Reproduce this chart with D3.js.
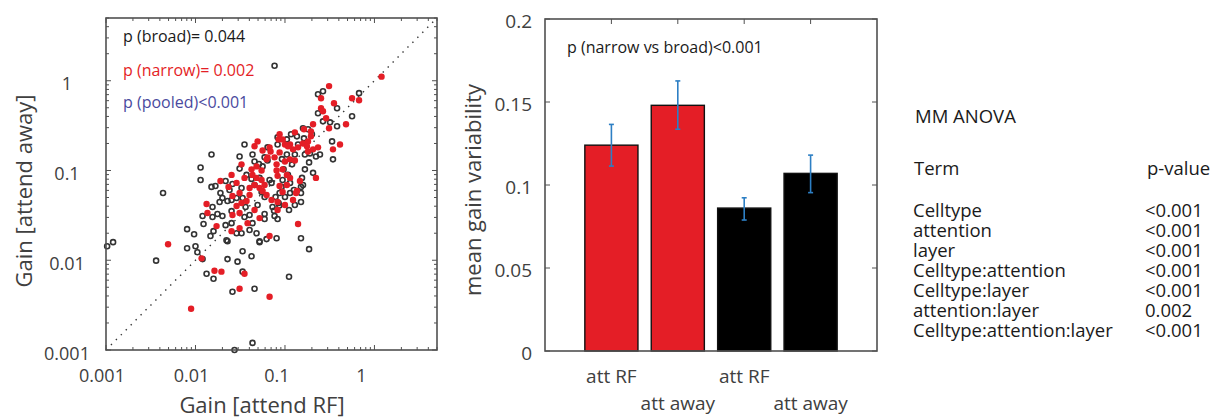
<!DOCTYPE html>
<html>
<head>
<meta charset="utf-8">
<script src="https://cdn.jsdelivr.net/npm/d3@7"></script>
<style>
  html, body { margin: 0; padding: 0; background: #fff; }
  svg { display: block; font-family: "Open Sans", "Noto Sans", sans-serif; }
</style>
</head>
<body>
<div id="chart"></div>
<script>
// ---- data ----
// broad cells (open black circles): [gain attend RF, gain attend away]
const broadPoints = [
  [0.0765,1.47],[0.266,0.765],[0.234,0.708],[0.673,0.727],[0.382,0.494],[0.234,0.434],
  [0.562,0.402],[0.266,0.353],[0.319,0.344],[0.382,0.311],[0.159,0.295],[0.181,0.288],
  [0.117,0.253],[0.200,0.253],[0.163,0.228],[0.0827,0.234],[0.105,0.222],[0.136,0.240],
  [0.336,0.211],[0.0353,0.195],[0.0827,0.195],[0.140,0.195],[0.190,0.155],[0.0639,0.181],
  [0.0434,0.151],[0.0151,0.151],[0.0311,0.143],[0.105,0.151],[0.129,0.151],[0.167,0.151],
  [0.246,0.151],[0.344,0.133],[0.222,0.143],[0.0592,0.140],[0.0639,0.129],[0.0562,0.111],
  [0.0311,0.105],[0.0114,0.108],[0.167,0.103],[0.206,0.0941],[0.0965,0.103],[0.108,0.0893],
  [0.052,0.0827],[0.0423,0.0806],[0.0114,0.0785],[0.0217,0.0765],[0.0941,0.0785],[0.155,0.0827],
  [0.0673,0.0785],[0.0708,0.0727],[0.0259,0.0708],[0.0457,0.069],[0.114,0.0727],[0.159,0.069],
  [0.151,0.0656],[0.0151,0.0656],[0.0167,0.0673],[0.0917,0.0656],[0.0327,0.0639],[0.019,0.0562],
  [0.126,0.0607],[0.0871,0.0562],[0.114,0.0562],[0.151,0.0562],[0.0548,0.0576],[0.0592,0.0507],
  [0.00434,0.0562],[0.02,0.0494],[0.0288,0.0494],[0.0336,0.0494],[0.0253,0.0469],[0.0785,0.0507],
  [0.151,0.0446],[0.0849,0.0434],[0.0727,0.0392],[0.129,0.0412],[0.0186,0.0446],[0.0228,0.0457],
  [0.0155,0.0392],[0.111,0.0363],[0.0353,0.0303],[0.0402,0.0319],[0.0155,0.0303],[0.0176,0.0327],
  [0.02,0.0311],[0.0253,0.0353],[0.0765,0.0311],[0.0592,0.0327],[0.0592,0.0288],[0.0827,0.0288],
  [0.0434,0.0259],[0.0253,0.0259],[0.012,0.0311],[0.0123,0.0253],[0.00806,0.0222],[0.00965,0.0195],
  [0.0147,0.0186],[0.0159,0.0211],[0.0288,0.02],[0.0327,0.02],[0.0481,0.02],[0.151,0.0176],
  [0.0806,0.0176],[0.0228,0.0163],[0.052,0.0163],[0.0623,0.0172],[0.186,0.0133],[0.00806,0.0136],
  [0.01,0.0143],[0.0105,0.0123],[0.00103,0.0143],[0.0012,0.0159],[0.00363,0.0099],[0.012,0.0103],
  [0.0228,0.0103],[0.0295,0.00965],[0.0336,0.0126],[0.0423,0.0111],[0.0133,0.00708],[0.0159,0.00623],
  [0.0336,0.00746],[0.0259,0.00446],[0.0457,0.00481],[0.111,0.00656],[0.0434,0.0012],[0.0273,0.001],
  [0.0222,0.0167],[0.052,0.0159],[0.0457,0.126],[0.0372,0.0893],[0.024,0.0607],[0.12,0.117],
  [0.186,0.123],[0.0363,0.0392],[0.0494,0.0412],[0.1,0.0507],[0.0217,0.0246],[0.0402,0.0217],
  [0.0755,0.0355],[0.0865,0.0408],[0.0512,0.118],[0.0925,0.134]
];

// narrow cells (filled red dots)
const narrowPoints = [
  [1.20,1.11],[0.311,0.871],[0.253,0.639],[0.562,0.639],[0.673,0.607],[0.353,0.562],
  [0.253,0.494],[0.266,0.457],[0.288,0.382],[0.481,0.327],[0.311,0.295],[0.206,0.327],
  [0.163,0.288],[0.195,0.273],[0.129,0.266],[0.0871,0.253],[0.195,0.240],[0.181,0.211],
  [0.412,0.195],[0.0849,0.222],[0.1,0.195],[0.114,0.195],[0.159,0.2],[0.176,0.186],
  [0.206,0.172],[0.344,0.172],[0.234,0.181],[0.0494,0.211],[0.0457,0.186],[0.0562,0.167],
  [0.0673,0.181],[0.069,0.163],[0.0765,0.140],[0.0871,0.159],[0.108,0.186],[0.123,0.172],
  [0.14,0.181],[0.114,0.133],[0.1,0.126],[0.129,0.129],[0.0327,0.117],[0.0253,0.0893],
  [0.019,0.0765],[0.0288,0.0727],[0.0434,0.0893],[0.0481,0.111],[0.0423,0.103],[0.0548,0.1],
  [0.0639,0.14],[0.0806,0.117],[0.0806,0.1],[0.0827,0.0871],[0.0941,0.103],[0.105,0.0893],
  [0.114,0.0827],[0.0871,0.0673],[0.105,0.069],[0.136,0.0592],[0.147,0.0765],[0.222,0.0827],
  [0.133,0.0562],[0.0402,0.0639],[0.0457,0.069],[0.052,0.0639],[0.0562,0.0592],[0.0481,0.0827],
  [0.0548,0.0785],[0.0311,0.0562],[0.0259,0.052],[0.0623,0.0534],[0.0708,0.0469],[0.0827,0.0446],
  [0.0133,0.0423],[0.0136,0.0336],[0.0259,0.0319],[0.0311,0.0336],[0.0288,0.0402],[0.0327,0.0434],
  [0.0372,0.0457],[0.0457,0.0363],[0.052,0.0295],[0.0382,0.0259],[0.0311,0.0228],[0.0253,0.0211],
  [0.0172,0.024],[0.0673,0.0186],[0.0827,0.0363],[0.14,0.0253],[0.00494,0.0151],[0.0117,0.0105],
  [0.0163,0.00765],[0.0195,0.00746],[0.0353,0.00708],[0.0311,0.00481],[0.0673,0.00392],[0.00893,0.00288],
  [0.181,0.163],[0.0941,0.222],[0.0623,0.133],[0.0353,0.0827],[0.0941,0.0576],[0.123,0.0469],
  [0.0592,0.069],[0.0402,0.0534],[0.1,0.0412],[0.0234,0.0656]
];

const logTicks = [0.001, 0.01, 0.1, 1];
const logTickLabels = ["0.001", "0.01", "0.1", "1"];
const statLines = ["p (broad)= 0.044", "p (narrow)= 0.002", "p (pooled)<0.001"];

const barLabels = ["att RF", "att away", "att RF", "att away"];
const barValues = [0.124, 0.148, 0.0861, 0.107];
const barErrLow = [0.1114, 0.1336, 0.0789, 0.0954];
const barErrHigh = [0.1365, 0.1627, 0.0923, 0.118];
const barTicks = [0, 0.05, 0.1, 0.15, 0.2];
const barTickLabels = ["0", "0.05", "0.1", "0.15", "0.2"];

const anovaTerms = ["Celltype", "attention", "layer", "Celltype:attention",
  "Celltype:layer", "attention:layer", "Celltype:attention:layer"];
const anovaP = ["<0.001", "<0.001", "<0.001", "<0.001", "<0.001", "0.002", "<0.001"];

// ---- styles ----
const red = "#e41e26";
const black = "#333";
const axisCol = "#505050";
const labelCol = "#404040";
const statColors = ["#1a1a1a", red, "#4a4a9e"];
const barFills = [red, red, "#000", "#000"];
const errCol = "#2d7fc4";

const svg = d3.select("#chart").append("svg")
  .attr("width", 1218).attr("height", 419)
  .attr("viewBox", [0, 0, 1218, 419]);

// ================= scatter =================
const x = d3.scaleLog().domain([0.001, 5]).range([106, 437]);
const y = d3.scaleLog().domain([0.001, 5]).range([350, 18]);
const sc = svg.append("g");

// minor + major ticks on all four sides
const minor = x.ticks().filter(v => !logTicks.includes(v));
const tickG = sc.append("g").attr("stroke", axisCol).attr("stroke-width", 1);
function sideTicks(vals, len) {
  vals.forEach(v => {
    tickG.append("line").attr("x1", x(v)).attr("x2", x(v)).attr("y1", 350).attr("y2", 350 - len);
    tickG.append("line").attr("x1", x(v)).attr("x2", x(v)).attr("y1", 18).attr("y2", 18 + len);
    tickG.append("line").attr("y1", y(v)).attr("y2", y(v)).attr("x1", 106).attr("x2", 106 + len);
    tickG.append("line").attr("y1", y(v)).attr("y2", y(v)).attr("x1", 437).attr("x2", 437 - len);
  });
}
sideTicks(minor, 3);
sideTicks(logTicks, 5);

// identity line
sc.append("line")
  .attr("x1", x(0.001)).attr("y1", y(0.001))
  .attr("x2", x(5)).attr("y2", y(5))
  .attr("stroke", "#333").attr("stroke-width", 1.4)
  .attr("stroke-dasharray", "1.4 5.6");

sc.append("g").selectAll("circle").data(broadPoints).join("circle")
  .attr("cx", d => x(d[0])).attr("cy", d => y(d[1])).attr("r", 2.5)
  .attr("fill", "none").attr("stroke", black).attr("stroke-width", 1.6);

sc.append("g").selectAll("circle").data(narrowPoints).join("circle")
  .attr("cx", d => x(d[0])).attr("cy", d => y(d[1])).attr("r", 3.2)
  .attr("fill", red);

sc.append("rect").attr("x", 106).attr("y", 18).attr("width", 331).attr("height", 332)
  .attr("fill", "none").attr("stroke", axisCol).attr("stroke-width", 1.6);

// tick labels
const xShift = [-4, -4, -8, -13];
sc.append("g").selectAll("text").data(logTicks).join("text")
  .attr("x", (d, i) => x(d) + xShift[i]).attr("y", 382)
  .attr("text-anchor", "middle").attr("font-size", 18).attr("fill", labelCol)
  .text((d, i) => logTickLabels[i]);
sc.append("g").selectAll("text").data(logTicks).join("text")
  .attr("x", 67).attr("y", d => y(d) + 9.5)
  .attr("text-anchor", "middle").attr("font-size", 18).attr("fill", labelCol)
  .text((d, i) => logTickLabels[i]);

sc.append("text").attr("x", 262).attr("y", 413).attr("text-anchor", "middle")
  .attr("font-size", 22).attr("fill", labelCol).text("Gain [attend RF]");
sc.append("text").attr("transform", "translate(32,191) rotate(-90)")
  .attr("text-anchor", "middle").attr("font-size", 22).attr("fill", labelCol)
  .text("Gain [attend away]");

sc.append("g").selectAll("text").data(statLines).join("text")
  .attr("x", 123).attr("y", (d, i) => [42, 76, 108][i])
  .attr("font-size", 16).attr("fill", (d, i) => statColors[i]).text(d => d);

// ================= bars =================
const bx = d3.scaleLinear().domain([0, 5]).range([545, 877]);
const by = d3.scaleLinear().domain([0, 0.2]).range([351, 19]);
const bw = bx(0.8) - bx(0);
const bg = svg.append("g");
const idx = barValues.map((v, i) => i + 1);

const btG = bg.append("g").attr("stroke", axisCol).attr("stroke-width", 1);
barTicks.forEach(v => {
  btG.append("line").attr("x1", 545).attr("x2", 550).attr("y1", by(v)).attr("y2", by(v));
  btG.append("line").attr("x1", 877).attr("x2", 872).attr("y1", by(v)).attr("y2", by(v));
});
idx.forEach(i => {
  btG.append("line").attr("x1", bx(i)).attr("x2", bx(i)).attr("y1", 19).attr("y2", 24);
  btG.append("line").attr("x1", bx(i)).attr("x2", bx(i)).attr("y1", 351).attr("y2", 346);
});

bg.append("g").selectAll("rect").data(barValues).join("rect")
  .attr("x", (d, i) => bx(i + 1) - bw / 2).attr("width", bw)
  .attr("y", d => by(d)).attr("height", d => by(0) - by(d))
  .attr("fill", (d, i) => barFills[i]).attr("stroke", "#111").attr("stroke-width", 1.4);

const eg = bg.append("g").attr("stroke", errCol).attr("stroke-width", 1.6);
idx.forEach((p, i) => {
  const cx = bx(p);
  eg.append("line").attr("x1", cx).attr("x2", cx).attr("y1", by(barErrLow[i])).attr("y2", by(barErrHigh[i]));
  [barErrLow[i], barErrHigh[i]].forEach(v =>
    eg.append("line").attr("x1", cx - 2.5).attr("x2", cx + 2.5).attr("y1", by(v)).attr("y2", by(v)));
});

bg.append("rect").attr("x", 545).attr("y", 19).attr("width", 332).attr("height", 332)
  .attr("fill", "none").attr("stroke", axisCol).attr("stroke-width", 1.6);

bg.append("g").selectAll("text").data(barTicks).join("text")
  .attr("x", 532).attr("y", d => by(d) + 9).attr("text-anchor", "end")
  .attr("font-size", 19).attr("fill", labelCol).text((d, i) => barTickLabels[i]);

bg.append("g").selectAll("text").data(barLabels).join("text")
  .attr("x", (d, i) => bx(i + 1)).attr("y", (d, i) => i % 2 ? 410 : 383)
  .attr("text-anchor", "middle").attr("font-size", 19).attr("fill", labelCol).text(d => d);

bg.append("text").attr("transform", "translate(481,190) rotate(-90)")
  .attr("text-anchor", "middle").attr("font-size", 22).attr("fill", labelCol)
  .text("mean gain variability");

bg.append("text").attr("x", 567).attr("y", 53).attr("font-size", 16).attr("fill", "#1a1a1a")
  .text("p (narrow vs broad)<0.001");

// ================= ANOVA table =================
// rows sit tight like the original (line step 20px)
const tg = svg.append("g").attr("font-size", 18.5).attr("fill", "#1a1a1a");
tg.append("text").attr("x", 915).attr("y", 123).text("MM ANOVA");
tg.append("text").attr("x", 914).attr("y", 175).text("Term");
tg.append("text").attr("x", 1147).attr("y", 175).text("p-value");
tg.append("g").selectAll("text").data(anovaTerms).join("text")
  .attr("x", 913).attr("y", (d, i) => 216.5 + i * 20).text(d => d);
tg.append("g").selectAll("text").data(anovaP).join("text")
  .attr("x", 1145).attr("y", (d, i) => 216.5 + i * 20).text(d => d);
</script>
</body>
</html>
